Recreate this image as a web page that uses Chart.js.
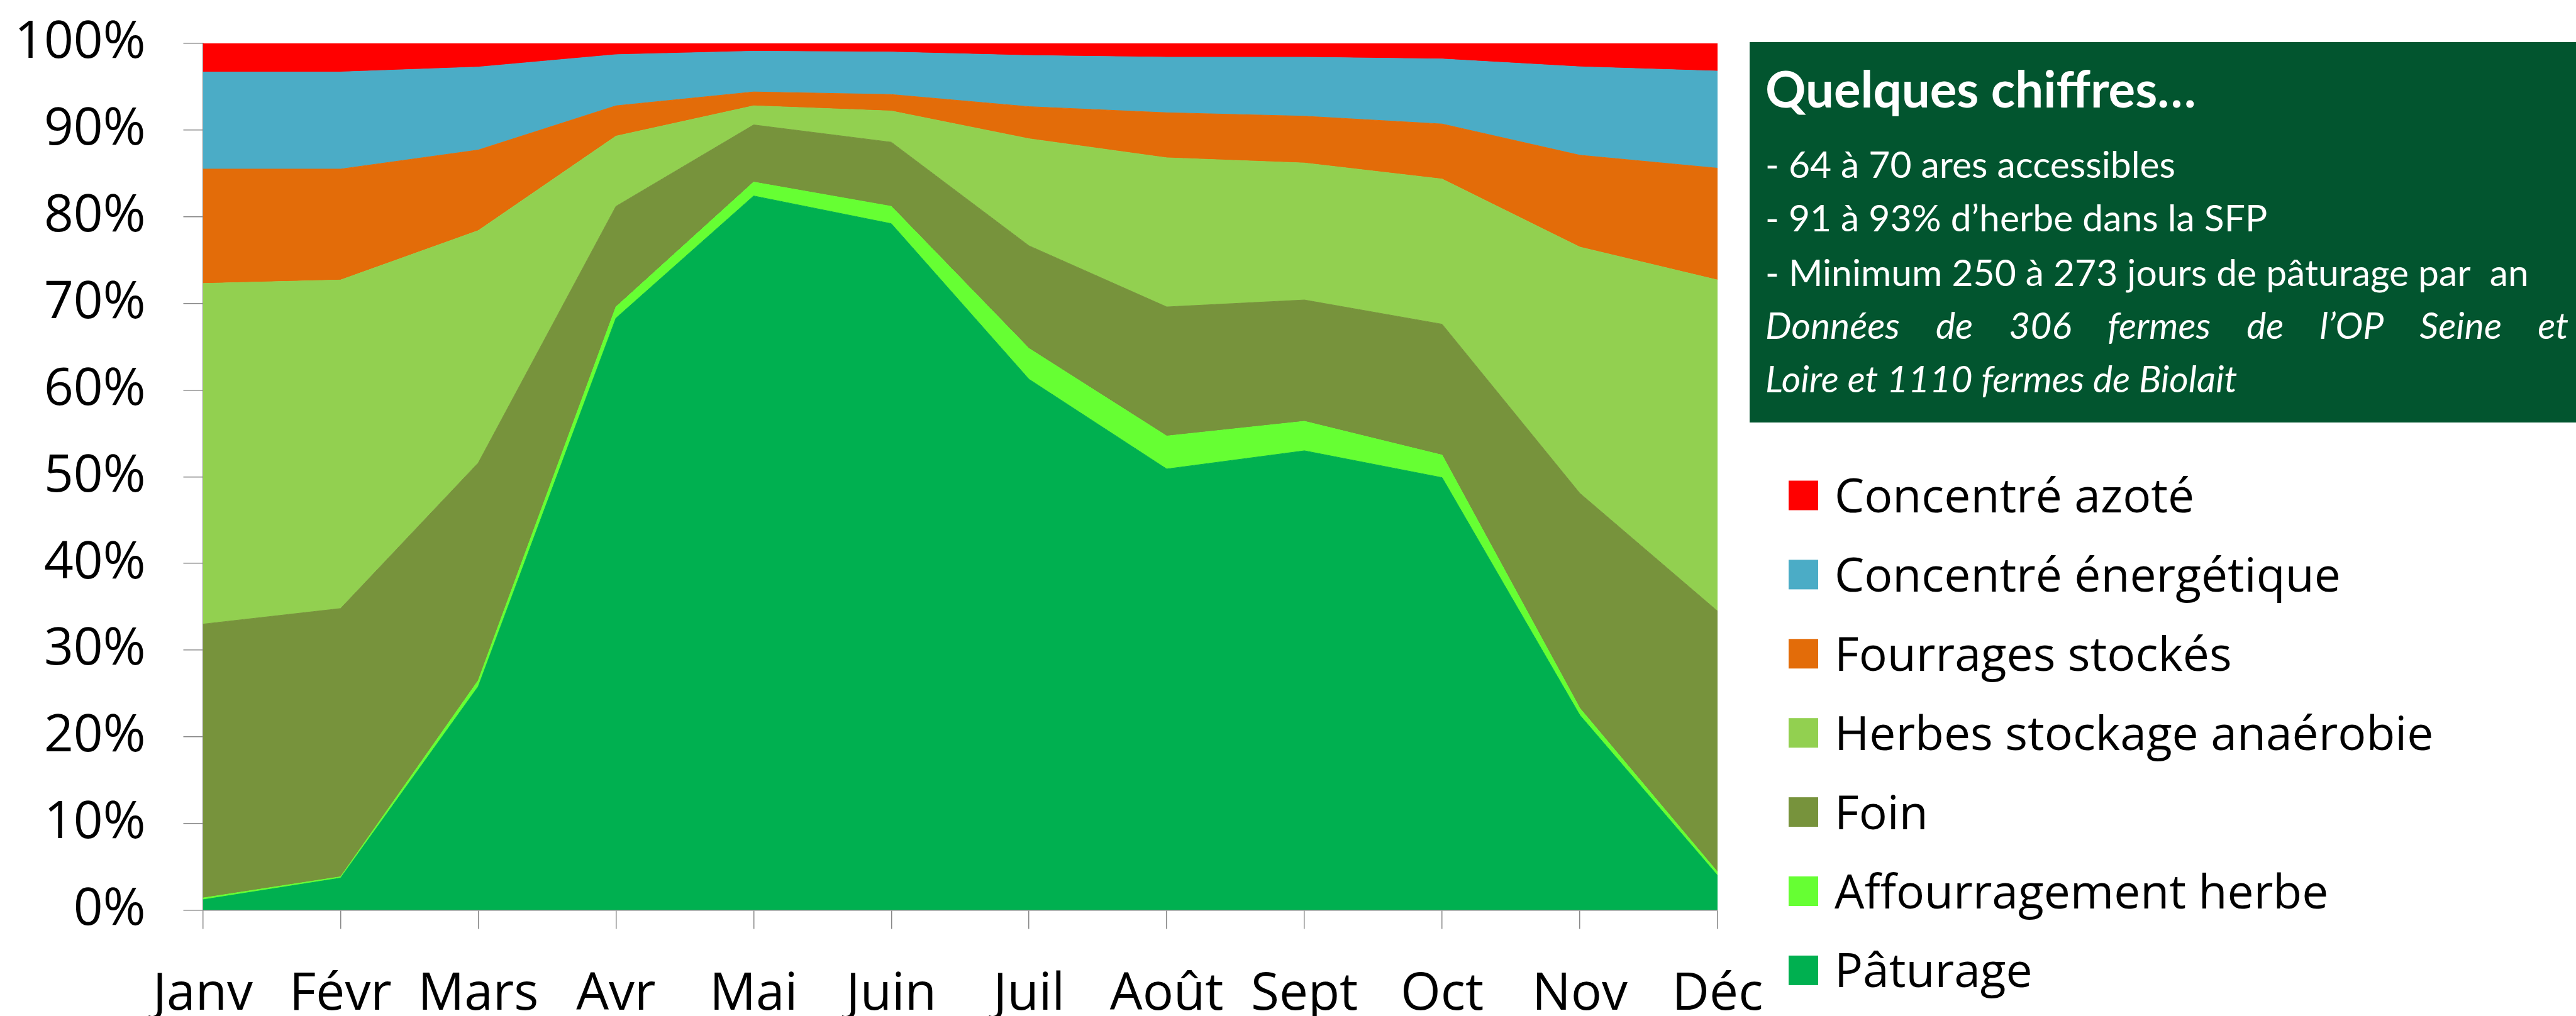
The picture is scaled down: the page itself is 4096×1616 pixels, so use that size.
<!DOCTYPE html>
<html lang="fr">
<head>
<meta charset="utf-8">
<title>Ration par mois</title>
<script src="https://cdn.jsdelivr.net/npm/chart.js@4.4.1/dist/chart.umd.min.js"></script>
<style>
  html, body { margin: 0; padding: 0; background: #fff; }
  #zone { position: relative; width: 4096px; height: 1616px; }
</style>
</head>
<body>
<div id="zone"><canvas id="graphique" width="4096" height="1616"></canvas></div>
<script>
// ================= DONNÉES =================
const mois = ["Janv", "Févr", "Mars", "Avr", "Mai", "Juin", "Juil", "Août", "Sept", "Oct", "Nov", "Déc"];

// parts en % (empilées de bas en haut)
const paturage        = [1.2, 3.7, 25.8, 68.3, 82.4, 79.2, 61.25, 50.9, 53.0, 49.9, 22.5, 4.0];
const affourragement  = [0.2, 0.15, 0.7, 1.3, 1.6, 2.0, 3.55, 3.8, 3.4, 2.6, 0.8, 0.4];
const foin            = [31.6, 30.95, 25.1, 11.6, 6.6, 7.4, 11.85, 14.9, 14.0, 15.1, 24.8, 30.1];
const herbesAnaerobie = [39.3, 37.9, 26.8, 8.1, 2.2, 3.6, 12.35, 17.2, 15.8, 16.75, 28.4, 38.2];
const fourrages       = [13.2, 12.8, 9.3, 3.5, 1.6, 1.9, 3.7, 5.2, 5.4, 6.35, 10.6, 12.9];
const concEnergetique = [11.2, 11.2, 9.57, 5.9, 4.7, 4.9, 5.9, 6.4, 6.8, 7.5, 10.2, 11.2];
const concAzote       = [3.3, 3.3, 2.73, 1.3, 0.9, 1.0, 1.4, 1.6, 1.6, 1.8, 2.7, 3.2];

const noms = ["Pâturage", "Affourragement herbe", "Foin", "Herbes stockage anaérobie",
              "Fourrages stockés", "Concentré énergétique", "Concentré azoté"];
const series = [paturage, affourragement, foin, herbesAnaerobie, fourrages, concEnergetique, concAzote];
const couleurs = ["#00B050", "#66FF33", "#77933C", "#92D050", "#E36C09", "#4BACC6", "#FF0000"];

const ticksY = [0, 10, 20, 30, 40, 50, 60, 70, 80, 90, 100];

const titreEncadre = "Quelques chiffres…";
const lignesEncadre = [
    "- 64 à 70 ares accessibles",
    "- 91 à 93% d’herbe dans la SFP",
    "- Minimum 250 à 273 jours de pâturage par  an"
];
const sourceEncadre = ["Données de 306 fermes de l’OP Seine et", "Loire et 1110 fermes de Biolait"];

// ================= MISE EN PAGE (px, échelle 0.738) =================
const GRIS = "#898989";
const POLICE = "'Open Sans', 'Noto Sans', sans-serif";
const POLICE_ENCADRE = "Lato, 'Open Sans', sans-serif";

// Encadré vert "Quelques chiffres..."
function tailleAjustee(ctx, texte, style, largeur) {
    ctx.font = `${style} 100px ${POLICE_ENCADRE}`;
    return 100 * largeur / ctx.measureText(texte).width;
}

const encadre = {
    id: "encadre",
    afterDraw(chart) {
        const ctx = chart.ctx;
        ctx.save();
        const x0 = 2782, y0 = 67, x1 = 4096, y1 = 672;
        ctx.fillStyle = "#02552F";
        ctx.fillRect(x0, y0, x1 - x0, y1 - y0);

        const xt = 2807;
        ctx.fillStyle = "#ffffff";
        ctx.textBaseline = "alphabetic";
        ctx.textAlign = "left";

        // titre
        const tTitre = tailleAjustee(ctx, titreEncadre, "bold", 685);
        ctx.font = `bold ${tTitre}px ${POLICE_ENCADRE}`;
        ctx.fillText(titreEncadre, xt, 171);

        // lignes normales
        const tCorps = tailleAjustee(ctx, lignesEncadre[2], "normal", 1214);
        ctx.font = `normal ${tCorps}px ${POLICE_ENCADRE}`;
        const bases = [283, 368, 455, 539, 624];
        lignesEncadre.forEach((l, i) => ctx.fillText(l, xt, bases[i]));

        // source en italique, première ligne justifiée
        ctx.font = `italic ${tCorps}px ${POLICE_ENCADRE}`;
        const mots = sourceEncadre[0].split(" ");
        const largeurs = mots.map(m => ctx.measureText(m).width);
        const total = largeurs.reduce((a, b) => a + b, 0);
        const espace = (4084 - xt - total) / (mots.length - 1);
        let x = xt;
        mots.forEach((m, i) => {
            ctx.fillText(m, x, bases[3]);
            x += largeurs[i] + espace;
        });
        ctx.fillText(sourceEncadre[1], xt, bases[4]);
        ctx.restore();
    }
};

// Légende dessinée à la main (ordre inverse des séries)
const legende = {
    id: "legende",
    afterDraw(chart) {
        const ctx = chart.ctx;
        ctx.save();
        ctx.font = `75px ${POLICE}`;
        ctx.textBaseline = "alphabetic";
        ctx.textAlign = "left";
        const cote = 47;
        for (let k = 0; k < noms.length; k++) {
            const i = noms.length - 1 - k;
            const yc = 788 + k * 125.9;
            ctx.fillStyle = couleurs[i];
            ctx.fillRect(2844, yc - cote / 2, cote, cote);
            ctx.fillStyle = "#000000";
            ctx.fillText(noms[i], 2917, yc + 27);
        }
        ctx.restore();
    }
};

// ================= GRAPHIQUE =================
const ctx = document.getElementById("graphique").getContext("2d");

new Chart(ctx, {
    type: "line",
    data: {
        labels: mois,
        datasets: series.map((valeurs, i) => ({
            label: noms[i],
            data: valeurs,
            backgroundColor: couleurs[i],
            borderColor: couleurs[i],
            borderWidth: 1,
            pointRadius: 0,
            tension: 0,
            fill: i === 0 ? "origin" : "-1"
        }))
    },
    options: {
        responsive: false,
        animation: false,
        events: [],
        layout: { padding: { top: 69, right: 1365, left: 0, bottom: 0 } },
        plugins: {
            legend: { display: false },
            tooltip: { enabled: false }
        },
        scales: {
            x: {
                offset: false,
                grid: { drawOnChartArea: false, color: GRIS, lineWidth: 1.5, tickLength: 30 },
                border: { color: GRIS, width: 1.5 },
                ticks: {
                    color: "#000",
                    font: { family: POLICE, size: 82 },
                    padding: 56,
                    autoSkip: false,
                    maxRotation: 0
                },
                afterFit: (s) => { s.height = 168.4; s.paddingLeft = 0; s.paddingRight = 0; }
            },
            y: {
                stacked: true,
                min: 0,
                max: 100,
                afterBuildTicks: (s) => { s.ticks = ticksY.map(v => ({ value: v })); },
                grid: { drawOnChartArea: false, color: GRIS, lineWidth: 1.5, tickLength: 31 },
                border: { color: GRIS, width: 1.5 },
                ticks: {
                    color: "#000",
                    font: { family: POLICE, size: 82 },
                    padding: 60,
                    callback: (v) => v + "%"
                },
                afterFit: (s) => { s.width = 322.5; s.paddingTop = 0; s.paddingBottom = 0; }
            }
        }
    },
    plugins: [encadre, legende]
});
</script>
</body>
</html>
